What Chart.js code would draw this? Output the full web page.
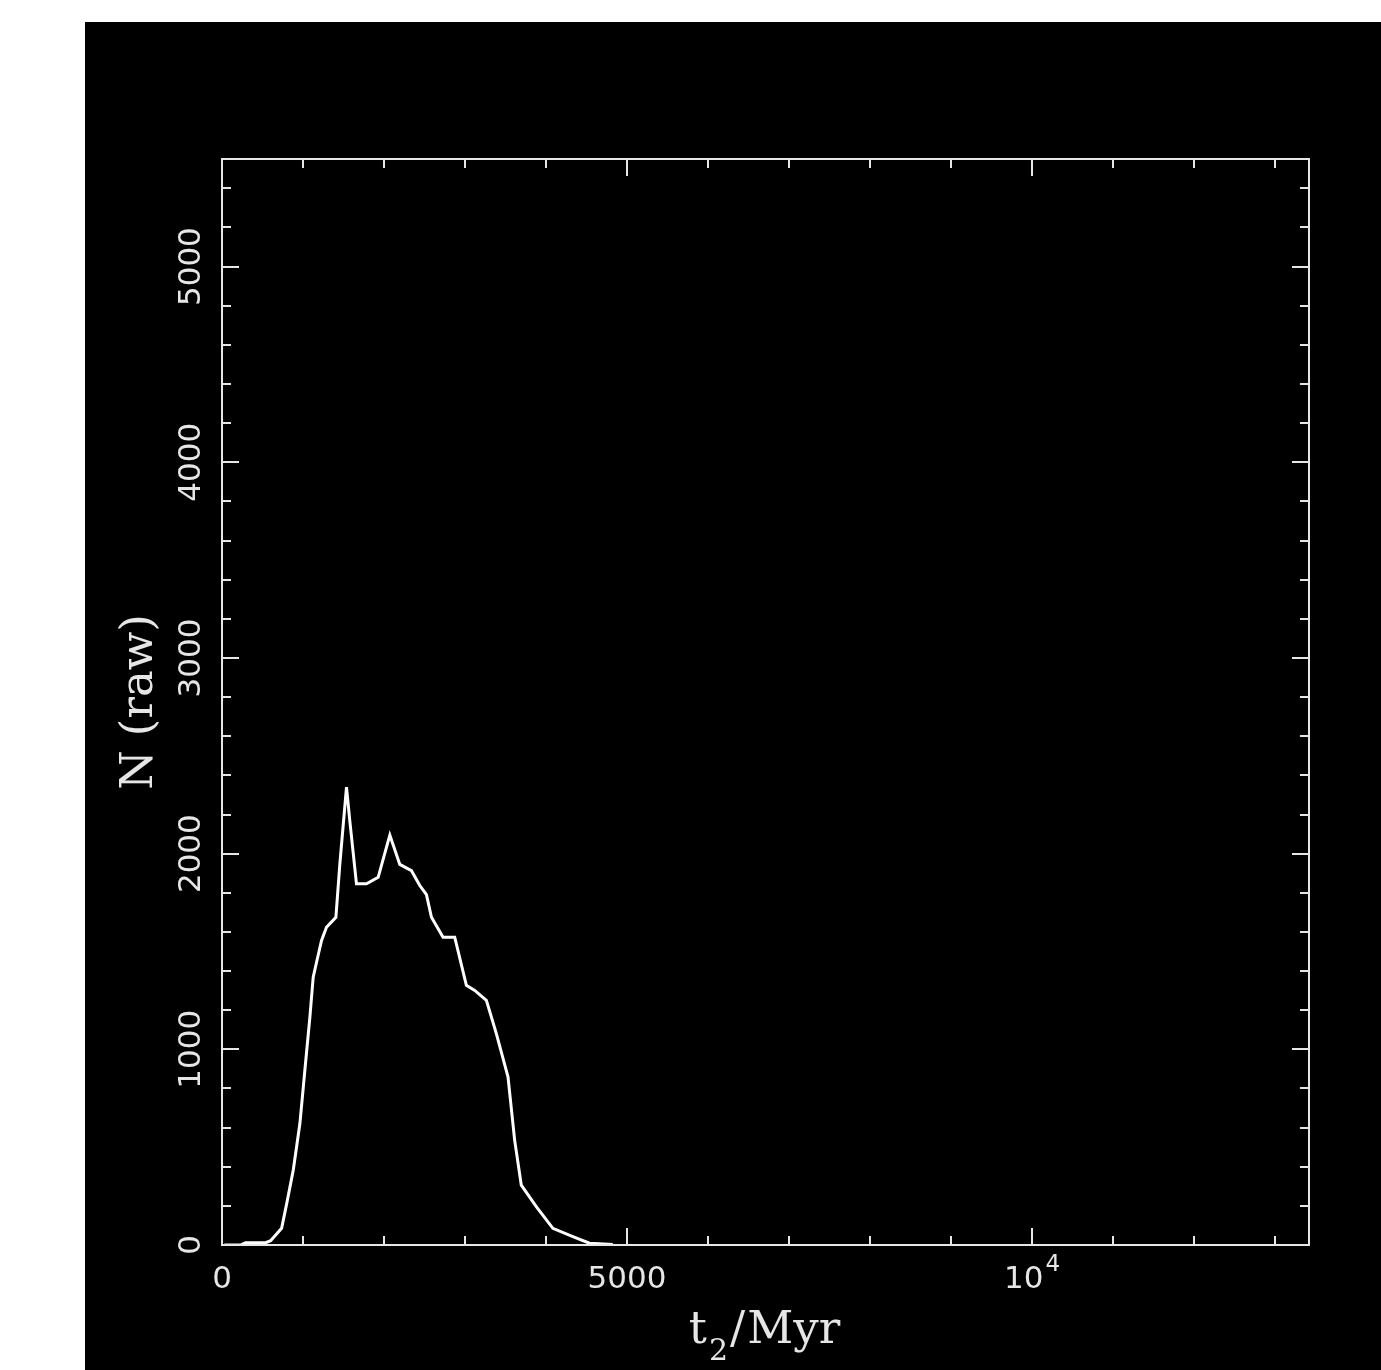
<!DOCTYPE html>
<html>
<head>
<meta charset="utf-8">
<title>N (raw) vs t2/Myr</title>
<script src="https://cdn.jsdelivr.net/npm/chart.js@4/dist/chart.umd.min.js"></script>
<style>
  html, body { margin: 0; padding: 0; background: #ffffff; }
  #plot { position: absolute; left: 85px; top: 22px; background: #000000; }
</style>
</head>
<body>
<canvas id="plot" width="1296" height="1348"></canvas>
<script>
// curve: time (Myr) and raw counts
const tMyr = [30, 230, 290, 540, 600, 736, 800, 880, 962, 1023, 1085, 1126, 1170, 1229, 1290, 1406,
              1455, 1537, 1578, 1660, 1784, 1928, 2072, 2195, 2339, 2442, 2524, 2586, 2729, 2873,
              3017, 3120, 3264, 3387, 3531, 3613, 3695, 3880, 4085, 4332, 4537, 4825];
const nRaw = [0, 0, 12, 12, 22, 85, 214, 383, 622, 893, 1165, 1369, 1450, 1556, 1624, 1675,
              1948, 2340, 2168, 1846, 1846, 1879, 2095, 1945, 1913, 1837, 1790, 1675, 1573, 1573,
              1327, 1301, 1250, 1080, 859, 536, 306, 196, 85, 43, 9, 3];

// axes
const xRange = [0, 13420];
const yRange = [0, 5550];
const xTickValues = [0, 5000, 10000];
const xTickLabels = ['0', '5000', '10^4'];
const yTickValues = [0, 1000, 2000, 3000, 4000, 5000];
const yTickLabels = ['0', '1000', '2000', '3000', '4000', '5000'];
const xMinorStep = 1000;
const yMinorStep = 200;

const INK = '#e6e6e6';
const TICK_FONT = '31px "DejaVu Sans"';
const SUP_FONT = '23px "DejaVu Sans"';
const TITLE_FONT = '45px "DejaVu Serif"';
const SUB_FONT = '30px "DejaVu Serif"';

// frame, inward ticks on all four sides, labels and titles
const framePlugin = {
    id: 'frame',
    afterDraw(chart) {
        const ctx = chart.ctx;
        const xs = chart.scales.x, ys = chart.scales.y;
        const a = chart.chartArea;
        const MAJOR = 17, MINOR = 9;

        ctx.save();
        ctx.strokeStyle = INK;
        ctx.lineWidth = 2;
        ctx.strokeRect(a.left, a.top, a.right - a.left, a.bottom - a.top);

        ctx.beginPath();
        for (let v = xRange[0]; v <= xRange[1]; v += xMinorStep) {
            const px = Math.round(xs.getPixelForValue(v));
            const len = xTickValues.includes(v) ? MAJOR : MINOR;
            ctx.moveTo(px, a.bottom); ctx.lineTo(px, a.bottom - len);
            ctx.moveTo(px, a.top); ctx.lineTo(px, a.top + len);
        }
        for (let v = yRange[0]; v <= yRange[1]; v += yMinorStep) {
            const py = Math.round(ys.getPixelForValue(v));
            const len = yTickValues.includes(v) ? MAJOR : MINOR;
            ctx.moveTo(a.left, py); ctx.lineTo(a.left + len, py);
            ctx.moveTo(a.right, py); ctx.lineTo(a.right - len, py);
        }
        ctx.stroke();

        ctx.fillStyle = INK;
        ctx.textBaseline = 'alphabetic';

        // x tick labels
        xTickValues.forEach((v, i) => {
            const px = xs.getPixelForValue(v);
            const base = a.bottom + 43;
            const parts = xTickLabels[i].split('^');
            ctx.font = TICK_FONT;
            const w0 = ctx.measureText(parts[0]).width;
            let w1 = 0;
            if (parts[1]) { ctx.font = SUP_FONT; w1 = ctx.measureText(parts[1]).width + 2; }
            const x0 = px - (w0 + w1) / 2;
            ctx.textAlign = 'left';
            ctx.font = TICK_FONT;
            ctx.fillText(parts[0], x0, base);
            if (parts[1]) {
                ctx.font = SUP_FONT;
                ctx.fillText(parts[1], x0 + w0 + 2, base - 17);
            }
        });

        // y tick labels, rotated
        ctx.font = TICK_FONT;
        ctx.textAlign = 'center';
        yTickValues.forEach((v, i) => {
            const py = ys.getPixelForValue(v);
            ctx.save();
            ctx.translate(a.left - 22, py);
            ctx.rotate(-Math.PI / 2);
            ctx.fillText(yTickLabels[i], 0, 0);
            ctx.restore();
        });

        // y title
        ctx.save();
        ctx.font = TITLE_FONT;
        ctx.translate(67, (a.top + a.bottom) / 2);
        ctx.rotate(-Math.PI / 2);
        ctx.textAlign = 'center';
        ctx.fillText('N (raw)', 0, 0);
        ctx.restore();

        // x title: t_2/Myr
        const pieces = [['t', TITLE_FONT, 0], ['2', SUB_FONT, 17], ['/', TITLE_FONT, 0], ['Myr', TITLE_FONT, 0]];
        let total = 0;
        const widths = pieces.map(p => { ctx.font = p[1]; const w = ctx.measureText(p[0]).width + 2; total += w; return w; });
        let cx = (a.left + a.right) / 2 - total / 2;
        const base = a.bottom + 98;
        ctx.textAlign = 'left';
        pieces.forEach((p, i) => {
            ctx.font = p[1];
            ctx.fillText(p[0], cx, base + p[2]);
            cx += widths[i];
        });
        ctx.restore();
    }
};

const ctx = document.getElementById('plot').getContext('2d');
const chart = new Chart(ctx, {
    type: 'scatter',
    data: {
        datasets: [{
            label: 'N (raw)',
            data: tMyr.map((t, i) => ({ x: t, y: nRaw[i] })),
            showLine: true,
            borderColor: '#ffffff',
            borderWidth: 3,
            pointRadius: 0,
            tension: 0
        }]
    },
    options: {
        responsive: false,
        animation: false,
        layout: { padding: { left: 137, right: 72, top: 137, bottom: 125 } },
        plugins: { legend: { display: false }, tooltip: { enabled: false } },
        scales: {
            x: { type: 'linear', min: xRange[0], max: xRange[1], display: false },
            y: { type: 'linear', min: yRange[0], max: yRange[1], display: false }
        }
    },
    plugins: [framePlugin]
});
</script>
</body>
</html>
